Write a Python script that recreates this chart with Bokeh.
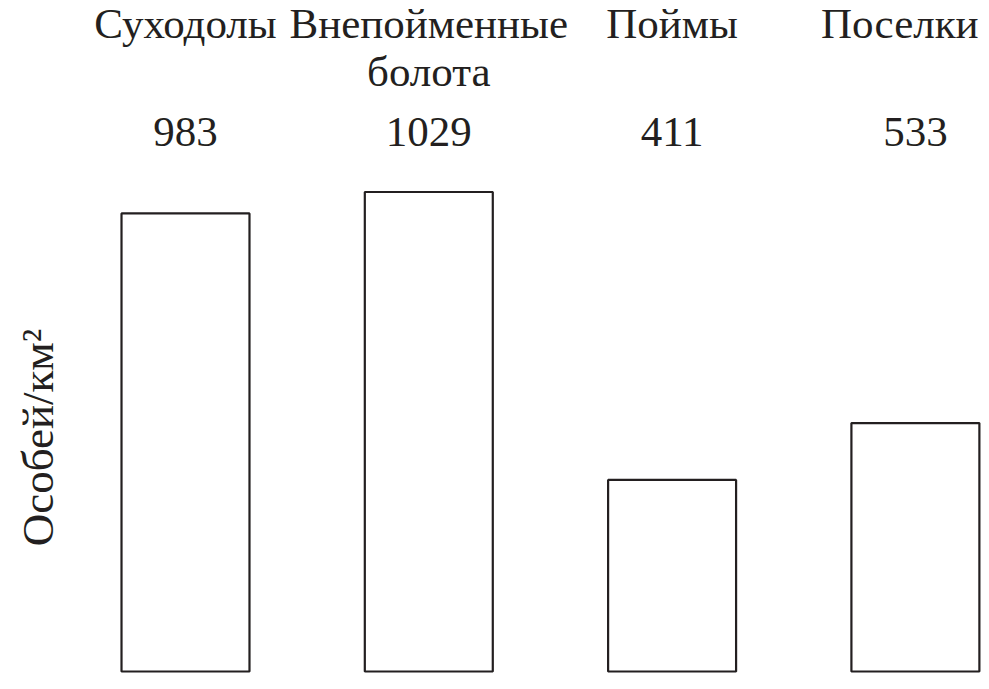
from bokeh.plotting import figure
from bokeh.models import Range1d, ColumnDataSource
from bokeh.core.properties import value
from bokeh.embed import file_html
from bokeh.resources import INLINE
import math

# ---- data ----
categories = ["Суходолы", "Внепойменные\nболота", "Поймы", "Поселки"]
density = [983, 1029, 411, 533]
y_label = "Особей/км²"

FONT = "Times New Roman"
INK = "#231f20"
FS = 43

idx = list(range(len(categories)))
line1 = [c.split("\n")[0] for c in categories]
line2 = [c.split("\n")[1] if "\n" in c else "" for c in categories]
vals_txt = [str(v) for v in density]

W, H = 981, 673
px_per_unit = 0.466            # vertical scale (px per individual/km²)
base_px = 671                  # y pixel of the zero line
y_top = base_px / px_per_unit
y_bot = -(H - base_px) / px_per_unit

x_step = 243.3                 # px between category centres
x0_px = 185.0
x_left = -x0_px / x_step
x_right = (W - x0_px) / x_step


def y_at(px):
    return (base_px - px) / px_per_unit


def x_at(px):
    return (px - x0_px) / x_step


# keep each label inside the canvas (approximate glyph width 0.53 em)
def offsets(texts):
    out = []
    for i, t in zip(idx, texts):
        half = 0.53 * FS * len(t) / 2
        cx = x0_px + i * x_step
        out.append(min(0.0, (W - 2 - half) - cx))
    return out


p = figure(width=W, height=H, output_backend="svg", toolbar_location=None,
           x_range=Range1d(x_left, x_right), y_range=Range1d(y_bot, y_top),
           min_border=0, min_border_left=0, min_border_right=0,
           min_border_top=0, min_border_bottom=0)
p.axis.visible = False
p.grid.visible = False
p.outline_line_color = None
p.background_fill_color = "white"
p.border_fill_color = "white"

src = ColumnDataSource(dict(x=idx, top=density, l1=line1, l2=line2, v=vals_txt,
                            o1=offsets(line1), o2=offsets(line2),
                            ov=offsets(vals_txt)))

p.vbar(x="x", top="top", bottom=0, width=0.526, source=src,
       fill_color="white", line_color=INK, line_width=2.2)

common = dict(text_font=value(FONT), text_font_size=f"{FS}px", text_color=INK,
              text_align="center", text_baseline="alphabetic", source=src)
p.text(x="x", y=y_at(23), text="l1", x_offset="o1", **common)
p.text(x="x", y=y_at(71), text="l2", x_offset="o2", **common)
p.text(x="x", y=y_at(131), text="v", x_offset="ov", **common)

p.text(x=[x_at(37)], y=[y_at(437)], text=[y_label], angle=math.pi / 2,
       text_font=value(FONT), text_font_size="45px", text_color=INK,
       text_align="center", text_baseline="middle")

open("out.html", "w").write(file_html(p, INLINE))
